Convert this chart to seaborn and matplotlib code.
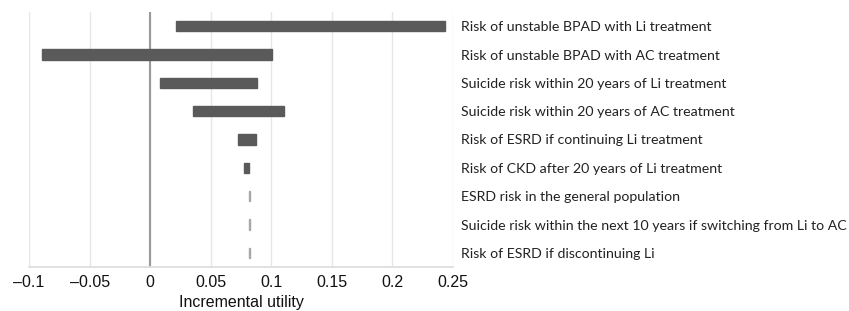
import matplotlib
matplotlib.use('Agg')
import matplotlib.pyplot as plt
import seaborn as sns

# parametros do tornado
labels = [
    'Risk of unstable BPAD with Li treatment',
    'Risk of unstable BPAD with AC treatment',
    'Suicide risk within 20 years of Li treatment',
    'Suicide risk within 20 years of AC treatment',
    'Risk of ESRD if continuing Li treatment',
    'Risk of CKD after 20 years of Li treatment',
    'ESRD risk in the general population',
    'Suicide risk within the next 10 years if switching from Li to AC',
    'Risk of ESRD if discontinuing Li',
]
low = [0.021, -0.089, 0.0085, 0.035, 0.0727, 0.0775, 0.0812, 0.0812, 0.0812]
high = [0.2435, 0.1005, 0.0885, 0.1107, 0.0875, 0.0818, 0.0822, 0.0822, 0.0822]
ticks = [-0.1, -0.05, 0, 0.05, 0.1, 0.15, 0.2, 0.25]
tick_labels = ['\u20130.1', '\u20130.05', '0', '0.05', '0.1', '0.15', '0.2', '0.25']

sns.set_theme(style='white')
plt.rcParams['font.family'] = ['Liberation Sans', 'DejaVu Sans']

fig = plt.figure(figsize=(8.49, 3.11), dpi=100)
ax = fig.add_axes([29 / 849, 1 - 267 / 311, 424 / 849, 255 / 311])

ypos = list(range(len(labels)))
widths = [h - l for l, h in zip(low, high)]
colors = ['#5a5a5a'] * 6 + ['#a8a8a8'] * 3
ax.barh(ypos, widths, left=low, height=0.36, color=colors,
        edgecolor=colors, linewidth=1.0, zorder=3)

ax.set_xlim(-0.1, 0.25)
ax.set_ylim(len(labels) - 0.5, -0.5)
ax.set_xticks(ticks)
ax.set_xticklabels(tick_labels, fontsize=11.5, color='#111111')
for t in ticks:
    ax.axvline(t, color='#e6e6e6', lw=1, zorder=1)
ax.axvline(0, color='#9a9a9a', lw=1.5, zorder=2)

ax.yaxis.tick_right()
ax.set_yticks(ypos)
ax.set_yticklabels(labels, fontsize=10.2, family=['Lato', 'DejaVu Sans'], color='#222222')
ax.tick_params(axis='y', length=0, pad=6)
ax.tick_params(axis='x', length=0, pad=6)

for s in ['top', 'right', 'left']:
    ax.spines[s].set_visible(False)
ax.spines['bottom'].set_color('#dddddd')

ax.set_xlabel('Incremental utility', fontsize=11.5, color='#111111', labelpad=3)

plt.savefig('out.png', dpi=100)
